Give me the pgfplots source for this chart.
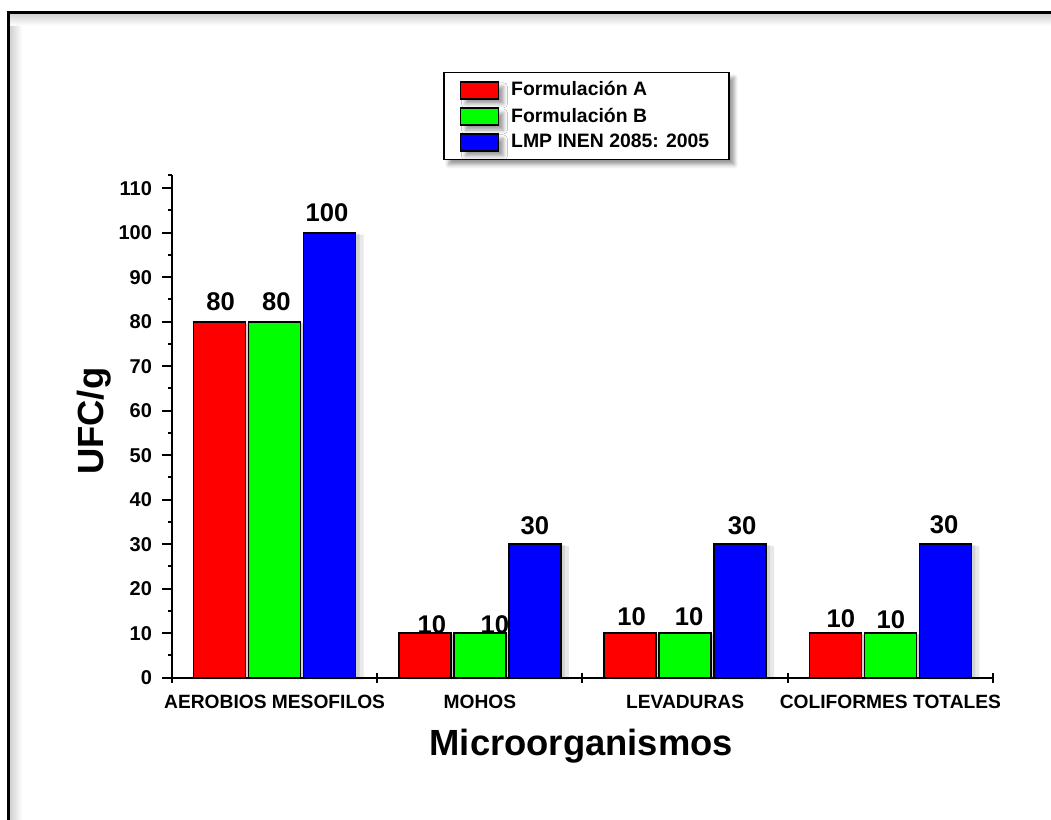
\documentclass[border=0pt]{standalone}
\usepackage{fontspec}
\setmainfont{Liberation Sans}
\usepackage{pgfplots}
\pgfplotsset{compat=1.18}
\usepackage{pgfplotstable}
\usetikzlibrary{shadows.blur}
\definecolor{cA}{RGB}{255,0,0}
\definecolor{cB}{RGB}{0,255,0}
\definecolor{cC}{RGB}{0,0,255}

\pgfplotstableread{
x y lx ly
0 80 0.5 5.8
1 10 3.5 0
2 10 0.75 4
3 10 2.75 3
}\dataA
\pgfplotstableread{
x y lx ly
0 80 0.85 5.8
1 10 7.5 0
2 10 2 4
3 10 0.25 2.5
}\dataB
\pgfplotstableread{
x y lx ly
0 100 -1.35 5.5
1 30 0 5
2 30 1 5
3 30 -0.65 5.35
}\dataC

\pgfplotsset{
  shadowbar/.style={forget plot, fill=black, draw=none, fill opacity=0.09},
  realbar/.style={draw=black, line width=0.85pt,
    nodes near coords={\pgfmathprintnumber{\pgfplotspointmeta}},
    visualization depends on={\thisrow{lx}\as\lblx},
    visualization depends on={\thisrow{ly}\as\lbly},
    every node near coord/.append style={anchor=base, inner sep=0pt, xshift=\lblx pt, yshift=\lbly pt,
      font=\bfseries\fontsize{12.8}{15}\selectfont, black}},
}

\begin{document}
\begin{tikzpicture}
\path[use as bounding box] (-86pt,-71.15pt) rectangle (439.5pt,338.85pt);
\shade[left color=black!18, right color=white] (-81pt,-75pt) rectangle (-75pt,332pt);
\shade[top color=black!18, bottom color=white] (-81pt,332pt) rectangle (445pt,326pt);
\draw[line width=1.5pt] (-81.75pt,-75pt) -- (-81.75pt,332.6pt) -- (445pt,332.6pt);
\begin{axis}[
  at={(0,0)}, anchor=south west,
  scale only axis, width=410.5pt, height=251.4pt,
  xmin=-0.5, xmax=3.5, ymin=0, ymax=113,
  enlargelimits=false, clip=false,
  axis lines=left,
  every outer x axis line/.append style={-},
  every outer y axis line/.append style={-},
  axis line style={line width=1pt, black},
  /pgf/number format/assume math mode=true,
  ybar=1.5pt, bar width=26pt,
  tick align=outside,
  major tick length=5pt, minor tick length=2pt,
  every tick/.style={line width=1pt, black},
  xtick={-0.5,0.5,1.5,2.5,3.5},
  xticklabels={AEROBIOS MESOFILOS,MOHOS,LEVADURAS,COLIFORMES TOTALES,{}},
  minor xtick={0,1,2,3},
  xtick style={yshift=2.5pt},
  xticklabel style={xshift=51.3125pt, font=\bfseries\fontsize{9.6}{11}\selectfont},
  ytick={0,10,...,110},
  minor ytick={5,15,...,105,113},
  yticklabel style={xshift=-1.5pt, font=\bfseries\fontsize{10}{12}\selectfont},
  xlabel={Microorganismos},
  xlabel style={at={(axis description cs:0.4985,-0.1538)}, anchor=base, font=\bfseries\fontsize{18.2}{22}\selectfont},
  ylabel={UFC/g},
  ylabel style={at={(axis description cs:-0.084,0.51)}, anchor=base, font=\bfseries\fontsize{18.2}{22}\selectfont},
  legend style={at={(axis description cs:0.330,1.2049)}, anchor=north west, draw=black, line width=0.8pt,
    font=\bfseries\fontsize{9.7}{11}\selectfont, inner xsep=8pt, inner ysep=2.5pt, row sep=0.5pt, column sep=4pt,
    blur shadow={shadow xshift=2.5pt, shadow yshift=-2.5pt, shadow blur radius=2pt, shadow opacity=40}},
  legend cell align=left,
  legend image code/.code={\draw[#1, line width=0.75pt] (0pt,-4.25pt) rectangle (19pt,4.25pt);},
]
% soft shadows (same data, offset)
\addplot[shadowbar, bar shift=-23.5pt, yshift=-1pt] table[x=x,y=y] {\dataA};
\addplot[shadowbar, bar shift=-25.5pt, yshift=-0.5pt] table[x=x,y=y] {\dataA};
\addplot[shadowbar, bar shift=4pt, yshift=-1pt] table[x=x,y=y] {\dataB};
\addplot[shadowbar, bar shift=2pt, yshift=-0.5pt] table[x=x,y=y] {\dataB};
\addplot[shadowbar, bar shift=31.5pt, yshift=-1pt] table[x=x,y=y] {\dataC};
\addplot[shadowbar, bar shift=29.5pt, yshift=-0.5pt] table[x=x,y=y] {\dataC};
% bars
\addplot[realbar, fill=cA, bar shift=-27.5pt] table[x=x,y=y] {\dataA};
\addplot[realbar, fill=cB, bar shift=0pt] table[x=x,y=y] {\dataB};
\addplot[realbar, fill=cC, bar shift=27.5pt] table[x=x,y=y] {\dataC};
\legend{Formulación A, Formulación B, LMP INEN 2085: 2005}
\end{axis}
\end{tikzpicture}
\end{document}
